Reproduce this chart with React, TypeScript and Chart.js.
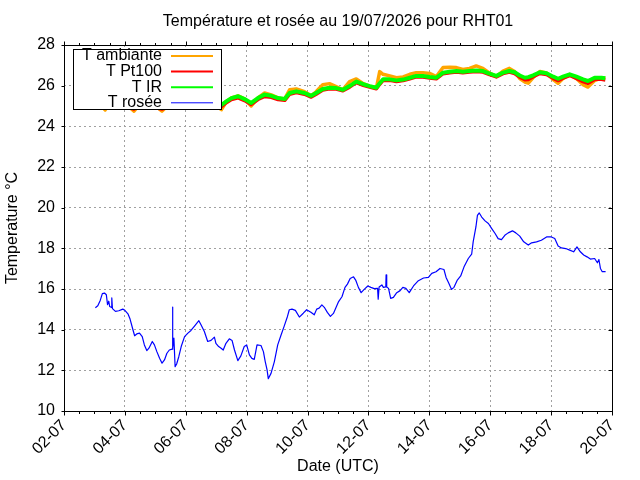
import { useEffect, useRef } from "react"
import { Chart, registerables, Plugin } from "chart.js"

Chart.register(...registerables)

const FONT = '"Liberation Sans", Arial, sans-serif'

// time in day-of-month (July 2026)
const upperTimes = [
  3.03, 3.2, 3.35, 3.5, 3.7, 3.9, 4.1, 4.3, 4.5, 4.7,
  4.9, 5.05, 5.22, 5.4, 5.6, 5.8, 6.0, 6.2, 6.4, 6.6,
  6.8, 7.0, 7.17, 7.33, 7.5, 7.72, 7.93, 8.15, 8.37, 8.59,
  8.81, 9.03, 9.25, 9.41, 9.63, 9.9, 10.12, 10.28, 10.5, 10.72,
  10.94, 11.16, 11.38, 11.6, 11.83, 12.04, 12.26, 12.37, 12.48, 12.7,
  12.92, 13.14, 13.36, 13.57, 13.79, 14.01, 14.23, 14.45, 14.67, 14.89,
  15.1, 15.32, 15.54, 15.76, 15.98, 16.2, 16.42, 16.63, 16.8, 16.97,
  17.14, 17.25, 17.41, 17.63, 17.85, 18.07, 18.23, 18.39, 18.61, 18.83,
  19.05, 19.21, 19.43, 19.65, 19.78,
]

const ambianteValues = [
  25.0, 25.1, 24.8, 25.1, 25.2, 25.1, 25.0, 24.75, 25.1, 25.2,
  25.1, 24.95, 24.75, 25.0, 25.2, 25.25, 25.1, 25.2, 25.25, 25.3,
  25.2, 25.0, 24.82, 25.2, 25.4, 25.5, 25.35, 25.0, 25.4, 25.64,
  25.55, 25.4, 25.35, 25.8, 25.84, 25.7, 25.5, 25.7, 26.05, 26.1,
  25.95, 25.8, 26.2, 26.33, 26.1, 25.98, 25.88, 26.69, 26.56, 26.48,
  26.39, 26.43, 26.56, 26.64, 26.64, 26.6, 26.45, 26.89, 26.9, 26.89,
  26.8, 26.85, 26.97, 26.85, 26.62, 26.45, 26.72, 26.85, 26.7, 26.35,
  26.18, 26.12, 26.4, 26.7, 26.62, 26.3, 26.12, 26.35, 26.55, 26.35,
  26.05, 25.93, 26.25, 26.38, 26.36,
]

const pt100Values = [
  24.95, 25.0, 24.9, 25.0, 25.05, 25.0, 24.95, 24.85, 25.0, 25.05,
  25.0, 24.9, 24.85, 24.95, 25.05, 25.1, 25.05, 25.05, 25.1, 25.15,
  25.14, 25.04, 24.97, 25.16, 25.32, 25.4, 25.27, 25.08, 25.32, 25.47,
  25.43, 25.32, 25.28, 25.58, 25.66, 25.58, 25.44, 25.58, 25.79, 25.85,
  25.83, 25.75, 25.93, 26.15, 26.02, 25.93, 25.85, 26.07, 26.26, 26.26,
  26.21, 26.25, 26.34, 26.43, 26.43, 26.38, 26.34, 26.59, 26.64, 26.67,
  26.64, 26.67, 26.7, 26.67, 26.54, 26.43, 26.59, 26.67, 26.6, 26.42,
  26.29, 26.3, 26.44, 26.6, 26.55, 26.36, 26.25, 26.37, 26.5, 26.36,
  26.2, 26.12, 26.31, 26.31, 26.28,
]

const irValues = [
  25.0, 25.05, 24.95, 25.05, 25.1, 25.05, 25.0, 24.9, 25.05, 25.1,
  25.05, 24.95, 24.9, 25.0, 25.1, 25.15, 25.1, 25.1, 25.15, 25.2,
  25.2, 25.1, 25.05, 25.23, 25.39, 25.48, 25.34, 25.15, 25.39, 25.56,
  25.5, 25.39, 25.34, 25.64, 25.72, 25.64, 25.5, 25.64, 25.84, 25.9,
  25.88, 25.8, 25.98, 26.2, 26.07, 25.98, 25.9, 26.12, 26.31, 26.31,
  26.26, 26.3, 26.39, 26.48, 26.48, 26.43, 26.39, 26.64, 26.69, 26.72,
  26.69, 26.72, 26.75, 26.72, 26.59, 26.48, 26.64, 26.72, 26.66, 26.5,
  26.39, 26.42, 26.51, 26.66, 26.61, 26.44, 26.34, 26.44, 26.56, 26.44,
  26.31, 26.23, 26.39, 26.39, 26.36,
]

const roseeTimes = [
  3.03, 3.11, 3.19, 3.26, 3.33, 3.39, 3.43, 3.47, 3.5, 3.55,
  3.57, 3.59, 3.61, 3.69, 3.8, 3.93, 4.0, 4.1, 4.17, 4.26,
  4.32, 4.39, 4.48, 4.57, 4.64, 4.72, 4.79, 4.9, 4.97, 5.05,
  5.14, 5.22, 5.3, 5.38, 5.46, 5.55, 5.56, 5.58, 5.61, 5.65,
  5.7, 5.77, 5.85, 5.96, 6.07, 6.17, 6.28, 6.43, 6.5, 6.61,
  6.72, 6.83, 6.94, 6.99, 7.08, 7.16, 7.23, 7.32, 7.43, 7.52,
  7.6, 7.71, 7.81, 7.92, 8.0, 8.09, 8.17, 8.25, 8.34, 8.47,
  8.55, 8.61, 8.67, 8.71, 8.8, 8.91, 9.02, 9.13, 9.23, 9.34,
  9.4, 9.49, 9.6, 9.73, 9.86, 9.97, 10.11, 10.22, 10.3, 10.38,
  10.47, 10.55, 10.65, 10.75, 10.85, 10.91, 11.02, 11.13, 11.23, 11.31,
  11.4, 11.51, 11.58, 11.67, 11.76, 11.86, 11.98, 12.08, 12.19, 12.3,
  12.32, 12.35, 12.44, 12.49, 12.57, 12.58, 12.6, 12.66, 12.73, 12.82,
  12.93, 13.04, 13.13, 13.23, 13.34, 13.48, 13.64, 13.81, 13.97, 14.08,
  14.22, 14.35, 14.48, 14.55, 14.64, 14.73, 14.81, 14.92, 15.03, 15.14,
  15.28, 15.39, 15.44, 15.53, 15.58, 15.64, 15.72, 15.83, 15.94, 16.05,
  16.16, 16.26, 16.37, 16.48, 16.59, 16.73, 16.84, 16.97, 17.1, 17.25,
  17.36, 17.52, 17.68, 17.85, 18.01, 18.12, 18.23, 18.34, 18.48, 18.61,
  18.74, 18.85, 18.96, 19.07, 19.18, 19.29, 19.43, 19.52, 19.57, 19.62,
  19.68, 19.79,
]

const roseeValues = [
  15.08, 15.18, 15.44, 15.77, 15.8, 15.72, 15.23, 15.4, 15.14, 15.1,
  15.56, 15.05, 15.01, 14.9, 14.93, 15.01, 14.95, 14.78, 14.52, 14.02,
  13.7, 13.79, 13.83, 13.66, 13.25, 12.97, 13.09, 13.42, 13.25, 12.92,
  12.59, 12.35, 12.51, 12.84, 13.0, 13.04, 15.11, 13.1, 13.58, 12.18,
  12.31, 12.67, 13.17, 13.66, 13.83, 13.96, 14.16, 14.44, 14.24, 13.91,
  13.42, 13.47, 13.63, 13.33, 13.17, 13.09, 13.0, 13.33, 13.55, 13.47,
  13.0, 12.48, 12.71, 13.17, 13.25, 12.76, 12.59, 12.54, 13.25, 13.22,
  12.92, 12.43, 12.02, 11.59, 11.85, 12.43, 13.25, 13.74, 14.16, 14.65,
  14.98, 15.01, 14.95, 14.62, 14.81, 14.98, 14.86, 14.73, 15.01, 15.06,
  15.22, 15.1, 14.85, 14.65, 14.8, 15.0, 15.38, 15.62, 16.08, 16.24,
  16.52, 16.6, 16.44, 16.08, 15.82, 15.98, 16.15, 16.08, 16.02, 16.03,
  15.5, 16.1, 16.2, 16.08, 16.1, 16.69, 16.1, 16.03, 15.54, 15.59,
  15.82, 15.92, 16.08, 16.03, 15.82, 16.15, 16.41, 16.54, 16.57, 16.77,
  16.85, 17.01, 16.96, 16.57, 16.28, 15.98, 16.08, 16.44, 16.64, 17.09,
  17.5, 17.71, 18.32, 19.05, 19.62, 19.74, 19.54, 19.35, 19.22, 18.97,
  18.73, 18.48, 18.43, 18.64, 18.76, 18.86, 18.76, 18.6, 18.32, 18.16,
  18.27, 18.32, 18.4, 18.56, 18.56, 18.48, 18.11, 18.02, 17.99, 17.91,
  17.83, 18.07, 17.83, 17.67, 17.58, 17.47, 17.5, 17.29, 17.45, 17.01,
  16.85, 16.85,
]

const seriesNames = ["T ambiante", "T Pt100", "T IR", "T rosée"]
const seriesColors = ["#ffa500", "#ff0000", "#00ff00", "#0000ff"]
const xMajorTicks = [2, 4, 6, 8, 10, 12, 14, 16, 18, 20]
const yTicks = [10, 12, 14, 16, 18, 20, 22, 24, 26, 28]
const titleText = "Température et rosée au 19/07/2026 pour RHT01"

const toPoints = (xs: number[], ys: number[]) => xs.map((x, i) => ({ x, y: ys[i] }))

// frame, gnuplot-style tics, title and key box
const decorPlugin: Plugin<"line"> = {
  id: "decor",
  afterDatasetsDraw(chart) {
    const { ctx, chartArea: a } = chart
    const x = chart.scales.x
    const y = chart.scales.y
    const L = Math.round(a.left) + 0.5
    const R = Math.round(a.right) + 0.5
    const T = Math.round(a.top) + 0.5
    const B = Math.round(a.bottom) + 0.5
    ctx.save()
    ctx.setLineDash([])
    ctx.strokeStyle = "#000"
    ctx.lineWidth = 1
    ctx.strokeRect(L, T, R - L, B - T)

    ctx.beginPath()
    for (let v = xMajorTicks[0]; v <= xMajorTicks[xMajorTicks.length - 1]; v += 0.5) {
      const px = Math.round(x.getPixelForValue(v)) + 0.5
      const len = v % 2 === 0 ? 4 : 2.5
      ctx.moveTo(px, B)
      ctx.lineTo(px, B + len)
      ctx.moveTo(px, T)
      ctx.lineTo(px, T - len)
    }
    yTicks.forEach((v) => {
      const py = Math.round(y.getPixelForValue(v)) + 0.5
      ctx.moveTo(L - 3, py)
      ctx.lineTo(L, py)
      ctx.moveTo(R - 4, py)
      ctx.lineTo(R, py)
    })
    ctx.stroke()

    // title
    ctx.fillStyle = "#000"
    ctx.font = `16px ${FONT}`
    ctx.textAlign = "center"
    ctx.textBaseline = "middle"
    ctx.fillText(titleText, (a.left + a.right) / 2, 22)

    // key
    const bx = 73.5, by = 49.5, bw = 148, bh = 60
    ctx.fillStyle = "#fff"
    ctx.fillRect(bx, by, bw, bh)
    ctx.strokeStyle = "#000"
    ctx.strokeRect(bx, by, bw, bh)
    ctx.textAlign = "right"
    ctx.font = `16px ${FONT}`
    seriesNames.forEach((name, i) => {
      const ry = 56 + i * 15.6
      ctx.fillStyle = "#000"
      ctx.fillText(name, 162, ry)
      ctx.strokeStyle = seriesColors[i]
      ctx.lineWidth = i === 3 ? 1 : 2
      ctx.beginPath()
      ctx.moveTo(171, ry)
      ctx.lineTo(213, ry)
      ctx.stroke()
    })
    ctx.restore()
  },
}

export default function App() {
  const canvasRef = useRef<HTMLCanvasElement>(null)
  const chartRef = useRef<Chart | null>(null)

  useEffect(() => {
    document.body.style.margin = "0"
    if (!canvasRef.current) return
    if (chartRef.current) chartRef.current.destroy()

    chartRef.current = new Chart(canvasRef.current, {
      type: "line",
      data: {
        datasets: [
          {
            label: seriesNames[0],
            data: toPoints(upperTimes, ambianteValues),
            borderColor: seriesColors[0],
            borderWidth: 3.5,
            order: 4,
          },
          {
            label: seriesNames[1],
            data: toPoints(upperTimes, pt100Values),
            borderColor: seriesColors[1],
            borderWidth: 3.5,
            order: 3,
          },
          {
            label: seriesNames[2],
            data: toPoints(upperTimes, irValues),
            borderColor: seriesColors[2],
            borderWidth: 4,
            order: 2,
          },
          {
            label: seriesNames[3],
            data: toPoints(roseeTimes, roseeValues),
            borderColor: seriesColors[3],
            borderWidth: 1.2,
            order: 1,
          },
        ],
      },
      options: {
        responsive: false,
        animation: false,
        events: [],
        layout: { padding: { top: 45, right: 28, left: 0, bottom: 0 } },
        elements: {
          point: { radius: 0 },
          line: { tension: 0, borderJoinStyle: "round" },
        },
        plugins: {
          legend: { display: false },
          title: { display: false },
          tooltip: { enabled: false },
        },
        scales: {
          x: {
            type: "linear",
            min: 2,
            max: 20,
            afterFit: (scale) => {
              scale.height = 69
            },
            afterBuildTicks: (scale) => {
              scale.ticks = xMajorTicks.map((value) => ({ value }))
            },
            ticks: {
              autoSkip: false,
              minRotation: 45,
              maxRotation: 45,
              padding: 5,
              color: "#000",
              font: { family: FONT, size: 16 },
              callback: (v) => `${String(v).padStart(2, "0")}-07`,
            },
            grid: { color: "#a0a0a0", lineWidth: 1, drawTicks: false },
            border: { display: false, dash: [2, 3] },
            title: {
              display: true,
              text: "Date (UTC)",
              color: "#000",
              font: { family: FONT, size: 16 },
              padding: { top: 0, bottom: 4 },
            },
          },
          y: {
            type: "linear",
            min: 10,
            max: 28,
            afterFit: (scale) => {
              scale.width = 64
            },
            ticks: {
              stepSize: 2,
              padding: 9,
              color: "#000",
              font: { family: FONT, size: 16 },
            },
            grid: { color: "#a0a0a0", lineWidth: 1, drawTicks: false },
            border: { display: false, dash: [2, 3] },
            title: {
              display: true,
              text: "Temperature °C",
              color: "#000",
              font: { family: FONT, size: 16 },
              padding: { top: 3, bottom: 0 },
            },
          },
        },
      },
      plugins: [decorPlugin],
    })

    return () => {
      if (chartRef.current) {
        chartRef.current.destroy()
        chartRef.current = null
      }
    }
  }, [])

  return <canvas ref={canvasRef} width={640} height={480} />
}
